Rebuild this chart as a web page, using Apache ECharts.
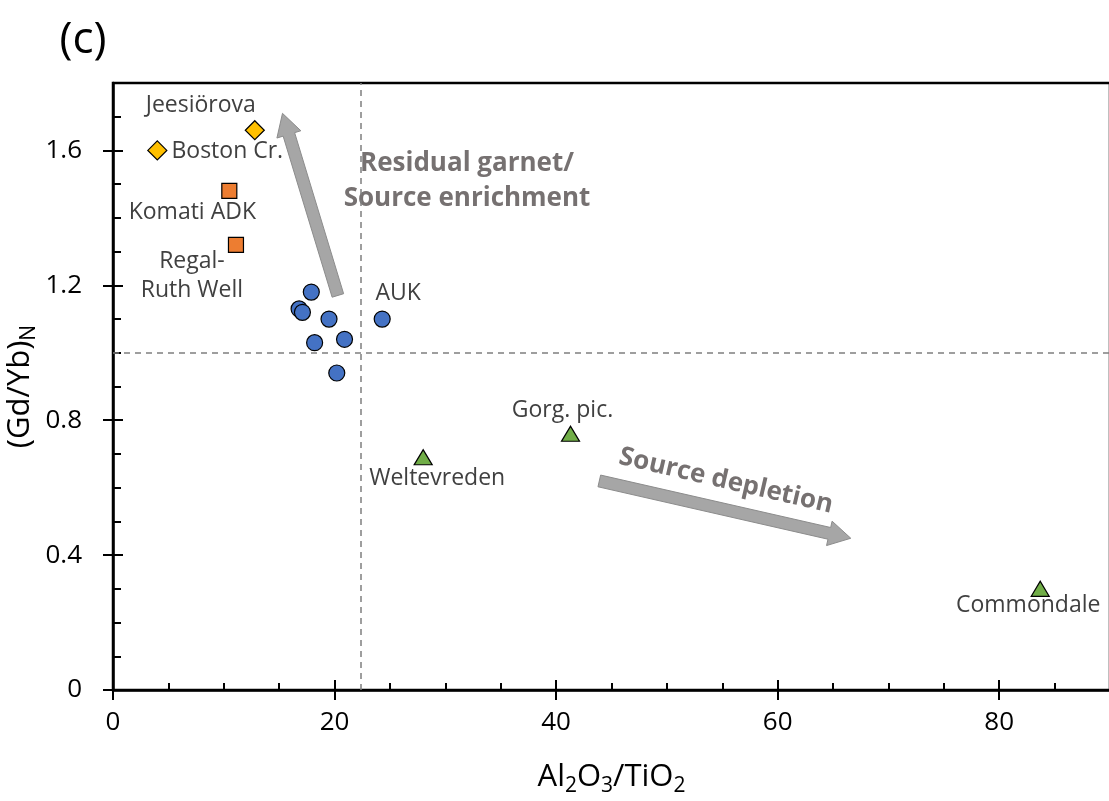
<!DOCTYPE html>
<html>
<head>
<meta charset="utf-8">
<script src="https://cdn.jsdelivr.net/npm/echarts@6/dist/echarts.min.js"></script>
<style>html,body{margin:0;padding:0;background:#fff;}#c{width:1109px;height:801px;}</style>
</head>
<body>
<div id="c"></div>
<script>
// ---- data ----
const diamondNames = ['Boston Cr.', 'Jeesiörova'];
const diamondX = [4.0, 12.8];
const diamondY = [1.60, 1.66];

const squareNames = ['Komati ADK', 'Regal-\nRuth Well'];
const squareX = [10.5, 11.1];
const squareY = [1.48, 1.32];

const circleNames = ['', '', '', '', 'AUK', '', '', ''];
const circleX = [17.9, 16.8, 17.1, 19.5, 24.3, 18.2, 20.9, 20.2];
const circleY = [1.18, 1.13, 1.12, 1.10, 1.10, 1.03, 1.04, 0.94];

const triangleNames = ['Weltevreden', 'Gorg. pic.', 'Commondale'];
const triangleX = [28.0, 41.3, 83.7];
const triangleY = [0.69, 0.76, 0.30];

const refX = 22.4;   // vertical dashed line
const refY = 1.0;    // horizontal dashed line

const arrowX0 = [20.3, 43.9];
const arrowY0 = [1.17, 0.62];
const arrowX1 = [15.3, 66.6];
const arrowY1 = [1.71, 0.45];

const xMajorTicks = [0, 20, 40, 60, 80];
const yMajorTicks = [0, 0.4, 0.8, 1.2, 1.6];

// ---- styles ----
const FONT = 'Open Sans';
const labelOffsets = {
  'Boston Cr.': [70, 1],
  'Jeesiörova': [-54, -25],
  'Komati ADK': [-37, 22],
  'Regal-\nRuth Well': [-44, 31],
  'AUK': [16, -26],
  'Weltevreden': [14, 21],
  'Gorg. pic.': [-8, -23],
  'Commondale': [-12, 17]
};

function build(names, xs, ys) {
  return xs.map((x, i) => {
    const item = { value: [x, ys[i]], name: names[i] };
    if (names[i]) {
      item.label = {
        show: true, position: 'inside', offset: labelOffsets[names[i]],
        formatter: names[i], color: '#404040', fontFamily: FONT, fontSize: 23,
        align: 'center', lineHeight: 29
      };
    }
    return item;
  });
}

const chart = echarts.init(document.getElementById('c'), null, { renderer: 'canvas' });

const gridCfg = { left: 113, top: 83, width: 997, height: 607, outerBoundsMode: 'none', containLabel: false,
  show: true, borderColor: '#000', borderWidth: 2.5, backgroundColor: 'transparent' };

const xBase = { type: 'value', min: 0, max: 90, gridIndex: 0, position: 'bottom', splitLine: { show: false } };
const yBase = { type: 'value', min: 0, max: 1.8, gridIndex: 0, position: 'left', splitLine: { show: false } };

const option = {
  animation: false,
  backgroundColor: '#fff',
  grid: gridCfg,
  xAxis: [
    Object.assign({}, xBase, {
      interval: 5,
      axisLine: { show: true, lineStyle: { color: '#000', width: 2.5 } },
      axisTick: { show: true, inside: true, length: 7, lineStyle: { color: '#000', width: 2 } },
      axisLabel: { show: false },
      name: 'Al{s|2}O{s|3}/TiO{s|2}',
      nameLocation: 'middle', nameGap: 68,
      nameTextStyle: { color: '#000', fontFamily: FONT, fontSize: 31,
        rich: { s: { fontFamily: FONT, fontSize: 21, verticalAlign: 'bottom', padding: [18, 0, 0, 0], color: '#000' } } }
    }),
    Object.assign({}, xBase, {
      interval: 20,
      axisLine: { show: false },
      axisTick: { show: true, inside: false, length: 10, customValues: xMajorTicks, lineStyle: { color: '#000', width: 2 } },
      axisLabel: { show: true, customValues: xMajorTicks, margin: 20, color: '#000', fontFamily: FONT, fontSize: 26 }
    }),
    Object.assign({}, xBase, {
      interval: 20,
      axisLine: { show: false },
      axisTick: { show: true, inside: true, length: 10, customValues: xMajorTicks, lineStyle: { color: '#000', width: 2 } },
      axisLabel: { show: false }
    })
  ],
  yAxis: [
    Object.assign({}, yBase, {
      interval: 0.1,
      axisLine: { show: true, lineStyle: { color: '#000', width: 2.5 } },
      axisTick: { show: true, inside: true, length: 8, lineStyle: { color: '#000', width: 2 } },
      axisLabel: { show: false },
      name: '(Gd/Yb){s|N}',
      nameLocation: 'middle', nameGap: 73, nameRotate: 90,
      nameTextStyle: { color: '#000', fontFamily: FONT, fontSize: 31,
        rich: { s: { fontFamily: FONT, fontSize: 21, verticalAlign: 'bottom', padding: [18, 0, 0, 0], color: '#000' } } }
    }),
    Object.assign({}, yBase, {
      interval: 0.4,
      axisLine: { show: false },
      axisTick: { show: true, inside: false, length: 10, customValues: yMajorTicks, lineStyle: { color: '#000', width: 2 } },
      axisLabel: { show: true, customValues: yMajorTicks, margin: 31, color: '#000', fontFamily: FONT, fontSize: 26,
        formatter: v => (v === 0 ? '0' : v.toFixed(1)) }
    }),
    Object.assign({}, yBase, {
      interval: 0.4,
      axisLine: { show: false },
      axisTick: { show: true, inside: true, length: 10, customValues: yMajorTicks, lineStyle: { color: '#000', width: 2 } },
      axisLabel: { show: false }
    })
  ],
  series: [
    {
      type: 'line', xAxisIndex: 0, yAxisIndex: 0, data: [], silent: true,
      markLine: {
        silent: true, symbol: ['none', 'none'], label: { show: false },
        lineStyle: { color: '#7F7F7F', type: [6, 5], width: 1.5 },
        data: [{ xAxis: refX }, { yAxis: refY }]
      }
    },
    {
      type: 'custom', xAxisIndex: 0, yAxisIndex: 0, silent: true, z: 3,
      data: arrowX0.map((x, i) => [x, arrowY0[i], arrowX1[i], arrowY1[i]]),
      encode: { x: [0, 2], y: [1, 3] },
      renderItem: function (params, api) {
        const p0 = api.coord([api.value(0), api.value(1)]);
        const p1 = api.coord([api.value(2), api.value(3)]);
        const dx = p1[0] - p0[0], dy = p1[1] - p0[1];
        const len = Math.sqrt(dx * dx + dy * dy);
        const ux = dx / len, uy = dy / len;
        const nx = -uy, ny = ux;
        const sw = 6, hw = 12.5, hl = 22;
        const bx = p1[0] - ux * hl, by = p1[1] - uy * hl;
        const pts = [
          [p0[0] + nx * sw, p0[1] + ny * sw],
          [bx + nx * sw, by + ny * sw],
          [bx + nx * hw, by + ny * hw],
          [p1[0], p1[1]],
          [bx - nx * hw, by - ny * hw],
          [bx - nx * sw, by - ny * sw],
          [p0[0] - nx * sw, p0[1] - ny * sw]
        ];
        return { type: 'polygon', shape: { points: pts }, style: { fill: '#A6A6A6', stroke: '#8C8C8C', lineWidth: 1 } };
      }
    },
    {
      type: 'scatter', xAxisIndex: 0, yAxisIndex: 0, symbol: 'diamond', symbolSize: 19, z: 5,
      itemStyle: { color: '#FFC000', borderColor: '#000', borderWidth: 1.2, opacity: 1 },
      data: build(diamondNames, diamondX, diamondY)
    },
    {
      type: 'scatter', xAxisIndex: 0, yAxisIndex: 0, symbol: 'rect', symbolSize: 15, z: 5,
      itemStyle: { color: '#ED7D31', borderColor: '#000', borderWidth: 1.2, opacity: 1 },
      data: build(squareNames, squareX, squareY)
    },
    {
      type: 'scatter', xAxisIndex: 0, yAxisIndex: 0, symbol: 'circle', symbolSize: 16, z: 5,
      itemStyle: { color: '#4472C4', borderColor: '#000', borderWidth: 1.2, opacity: 1 },
      data: build(circleNames, circleX, circleY)
    },
    {
      type: 'scatter', xAxisIndex: 0, yAxisIndex: 0, symbol: 'triangle', symbolSize: [18, 15], z: 5,
      itemStyle: { color: '#70AD47', borderColor: '#000', borderWidth: 1.2, opacity: 1 },
      data: build(triangleNames, triangleX, triangleY)
    }
  ],
  graphic: [
    { type: 'text', x: 83, y: 40, style: { text: '(c)', font: '44px "Open Sans"', fill: '#000', align: 'center', verticalAlign: 'middle' } },
    { type: 'text', x: 467, y: 181, style: { text: 'Residual garnet/\nSource enrichment', font: 'bold 26px "Open Sans"', fill: '#767171', align: 'center', verticalAlign: 'middle', lineHeight: 35 } },
    { type: 'text', x: 726, y: 481, rotation: -13 * Math.PI / 180, style: { text: 'Source depletion', font: 'bold 26px "Open Sans"', fill: '#767171', align: 'center', verticalAlign: 'middle' } }
  ]
};
chart.setOption(option);
</script>
</body>
</html>
